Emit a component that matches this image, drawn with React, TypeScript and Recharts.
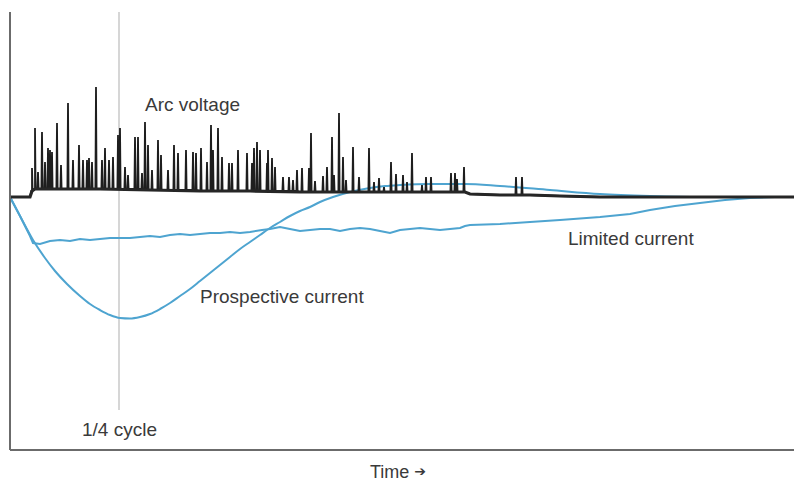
import React from "react";
import { LineChart, Line, XAxis, YAxis, ReferenceLine } from "recharts";

// time axis in arbitrary units (0..784), amplitude in arbitrary units (0 = rest level)
const QUARTER_CYCLE = 109;

// prospective current
const prospectiveT = [0, 10, 23, 35, 45, 57, 70, 80, 90, 100, 110, 120, 130, 140, 150, 160, 170, 180, 190, 200, 210, 220, 230, 240, 250, 260, 270, 280, 290, 300, 310, 323, 340, 357, 375, 390, 420, 455, 490, 540, 590, 640, 690, 784];
const prospectiveV = [0, -19, -43, -61, -74, -87, -99, -107, -113, -118, -121, -121.5, -120, -117, -112, -106, -99, -92, -84, -76, -68, -60, -52, -45, -38, -31, -25, -19, -14, -10, -5, 0, 5, 8.5, 11, 12, 13, 13, 11, 7, 3, 1, 0, 0];

// limited current
const limitedT = [0, 10, 20, 23, 30, 40, 50, 60, 70, 80, 90, 100, 109, 120, 130, 140, 150, 160, 170, 180, 190, 200, 210, 220, 230, 240, 252, 260, 270, 280, 290, 300, 310, 320, 330, 340, 350, 360, 370, 380, 390, 400, 410, 420, 430, 440, 450, 455, 460, 490, 520, 550, 590, 620, 640, 665, 690, 715, 740, 765, 784];
const limitedV = [0, -19, -39, -46, -47, -44, -43, -44, -42, -43, -42, -41, -41, -41, -40, -39, -40, -38, -37, -38, -37, -36, -36, -35, -36, -35, -33, -32, -30, -32, -34, -33, -32, -32, -34, -32, -31, -32, -34, -36, -33, -32, -31, -32, -33, -32, -31, -29, -28, -27, -25, -23, -20, -17, -13, -9, -6, -3, -1, 0, 0];

// arc voltage base level
const arcBaseT = [0, 20, 22, 25, 50, 90, 140, 190, 240, 290, 340, 390, 455, 460, 490, 520, 550, 590, 784];
const arcBaseV = [0, 0, 6, 8, 8, 8, 7, 6, 6, 5, 5, 5, 5, 3, 2, 2, 1, 0, 0];

// arc voltage spikes: position and peak
const spikeT = [22, 25, 28, 32, 35, 38, 40, 42, 47, 51, 58, 63, 69, 73, 77, 79, 82, 86, 92, 95, 99, 103, 108, 110, 115, 118, 125, 128, 132, 135, 138, 142, 148, 151, 158, 164, 168, 176, 183, 186, 191, 197, 201, 203, 208, 212, 219, 222, 228, 237, 242, 244, 247, 250, 257, 258, 262, 265, 273, 279, 283, 287, 292, 299, 301, 305, 313, 317, 322, 324, 329, 333, 336, 343, 349, 359, 364, 369, 374, 381, 386, 393, 397, 402, 412, 416, 421, 441, 445, 447, 454, 506, 512];
const spikeV = [29, 69, 25, 65, 35, 49, 47, 45, 74, 32, 94, 37, 52, 37, 37, 39, 35, 110, 37, 49, 37, 40, 62, 69, 30, 22, 60, 60, 24, 75, 52, 27, 57, 42, 27, 52, 44, 47, 45, 44, 49, 35, 72, 47, 69, 40, 34, 34, 47, 44, 34, 49, 55, 47, 34, 47, 39, 30, 20, 20, 17, 27, 29, 29, 64, 16, 21, 30, 60, 22, 84, 40, 17, 50, 20, 49, 15, 19, 10, 35, 23, 22, 15, 44, 12, 20, 20, 24, 24, 18, 30, 20, 20];

const prospectiveData = prospectiveT.map((t, i) => ({ t, v: prospectiveV[i] }));
const limitedData = limitedT.map((t, i) => ({ t, v: limitedV[i] }));
const arcBaseData = arcBaseT.map((t, i) => ({ t, v: arcBaseV[i] }));

const baseAt = (t: number) => {
  let v = arcBaseV[0];
  for (let i = 0; i < arcBaseT.length; i++) if (arcBaseT[i] <= t) v = arcBaseV[i];
  return v;
};

const arcData = [
  ...arcBaseData,
  ...spikeT.flatMap((t, i) => [
    { t: t - 0.6, v: baseAt(t) },
    { t, v: spikeV[i] },
    { t: t + 0.6, v: baseAt(t) },
  ]),
].sort((a, b) => a.t - b.t);

const BLUE = "#4ea4d0";
const FONT = '"Liberation Sans", Arial, Helvetica, sans-serif';

export default function App() {
  return (
    <div style={{ position: "absolute", left: 0, top: 0, width: 794, height: 483, background: "#fff" }}>
      <LineChart width={794} height={483} margin={{ top: 12, right: 0, bottom: 32, left: 9 }}>
        <XAxis
          dataKey="t"
          type="number"
          domain={[0, 784]}
          allowDataOverflow
          tick={false}
          tickLine={false}
          height={1}
          axisLine={{ stroke: "#6b6b6b", strokeWidth: 2 }}
        />
        <YAxis
          dataKey="v"
          type="number"
          domain={[-253, 185]}
          allowDataOverflow
          tick={false}
          tickLine={false}
          width={1}
          axisLine={{ stroke: "#6b6b6b", strokeWidth: 2 }}
        />
        <ReferenceLine
          segment={[{ x: QUARTER_CYCLE, y: 185 }, { x: QUARTER_CYCLE, y: -213 }]}
          stroke="#c9c9c9"
          strokeWidth={1.5}
        />
        <Line data={prospectiveData} dataKey="v" type="monotone" stroke={BLUE} strokeWidth={2} dot={false} isAnimationActive={false} />
        <Line data={limitedData} dataKey="v" type="linear" stroke={BLUE} strokeWidth={2} dot={false} isAnimationActive={false} />
        <Line data={arcData} dataKey="v" type="linear" stroke="#1e1e1e" strokeWidth={1.8} dot={false} isAnimationActive={false} />
        <Line data={arcBaseData} dataKey="v" type="linear" stroke="#262626" strokeWidth={3.2} dot={false} isAnimationActive={false} />
      </LineChart>
      <svg width={794} height={483} style={{ position: "absolute", left: 0, top: 0, pointerEvents: "none" }}>
        <g fontFamily={FONT} fontSize={19} fill="#3a3a3a">
          <text x={145} y={111}>Arc voltage</text>
          <text x={200} y={303}>Prospective current</text>
          <text x={568} y={245}>Limited current</text>
          <text x={82} y={436}>1/4 cycle</text>
          <text x={370} y={478} fontSize={18}>
            Time <tspan fontFamily="DejaVu Sans" fontSize={14} dy={-2}>➔</tspan>
          </text>
        </g>
      </svg>
    </div>
  );
}
